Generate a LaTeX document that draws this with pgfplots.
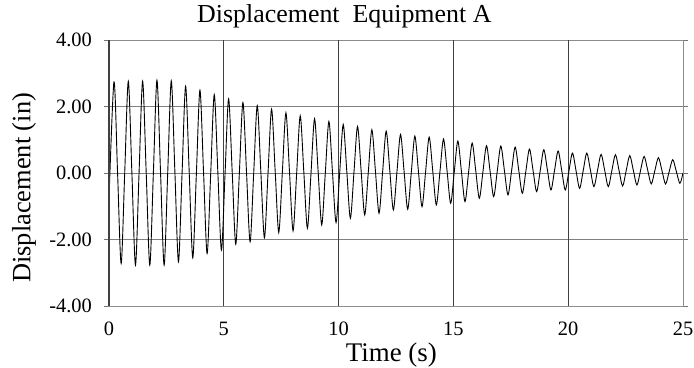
\documentclass[border=0pt]{standalone}
\usepackage{pgfplots}
\pgfplotsset{compat=1.18}
\usepackage{fontspec}
\setmainfont{Liberation Serif}
\pgfplotstableread{
t y
0.000 -0.80
0.217 2.74
0.373 0.01
0.529 -2.72
0.685 0.02
0.841 2.76
0.997 0.00
1.153 -2.77
1.309 0.00
1.465 2.76
1.621 0.00
1.777 -2.77
1.933 0.01
2.089 2.79
2.245 0.01
2.401 -2.77
2.557 0.00
2.713 2.77
2.869 0.05
3.025 -2.67
3.181 -0.03
3.337 2.61
3.493 0.03
3.649 -2.55
3.805 -0.03
3.961 2.49
4.117 0.04
4.273 -2.42
4.429 -0.03
4.585 2.36
4.741 0.02
4.897 -2.32
5.053 -0.05
5.209 2.23
5.365 0.05
5.521 -2.14
5.677 -0.01
5.833 2.12
5.989 0.03
6.145 -2.07
6.301 -0.02
6.457 2.03
6.613 0.04
6.769 -1.95
6.925 -0.02
7.081 1.92
7.237 0.07
7.393 -1.79
7.549 0.01
7.705 1.81
7.861 0.04
8.017 -1.74
8.173 -0.01
8.329 1.72
8.485 0.03
8.641 -1.66
8.797 -0.02
8.953 1.63
9.109 0.04
9.265 -1.56
9.421 0.00
9.577 1.55
9.733 0.03
9.889 -1.49
10.045 -0.02
10.201 1.46
10.357 0.05
10.513 -1.36
10.669 0.02
10.825 1.40
10.981 0.07
11.137 -1.26
11.293 0.02
11.449 1.30
11.605 0.05
11.761 -1.21
11.917 0.03
12.073 1.26
12.229 0.08
12.385 -1.11
12.541 0.03
12.697 1.16
12.853 0.04
13.009 -1.09
13.165 0.01
13.321 1.11
13.477 0.05
13.633 -1.01
13.789 0.04
13.945 1.08
14.101 0.06
14.257 -0.96
14.413 0.03
14.569 1.02
14.725 0.06
14.881 -0.91
15.037 0.03
15.193 0.96
15.349 0.05
15.505 -0.86
15.661 0.02
15.817 0.90
15.973 0.07
16.129 -0.76
16.285 0.03
16.441 0.82
16.597 0.06
16.753 -0.71
16.909 0.05
17.065 0.81
17.221 0.08
17.377 -0.66
17.533 0.06
17.689 0.78
17.845 0.09
18.001 -0.61
18.157 0.06
18.313 0.72
18.469 0.08
18.625 -0.56
18.781 0.07
18.937 0.70
19.093 0.10
19.249 -0.51
19.405 0.08
19.561 0.66
19.717 0.08
19.873 -0.51
20.029 0.05
20.185 0.60
20.341 0.07
20.497 -0.46
20.653 0.07
20.809 0.60
20.965 0.10
21.121 -0.41
21.277 0.08
21.433 0.56
21.589 0.08
21.745 -0.41
21.901 0.07
22.057 0.55
22.213 0.08
22.369 -0.39
22.525 0.07
22.681 0.52
22.837 0.08
22.993 -0.36
23.149 0.07
23.305 0.50
23.461 0.09
23.617 -0.33
23.773 0.07
23.929 0.46
24.085 0.07
24.241 -0.33
24.397 0.04
24.553 0.40
24.709 0.05
24.865 -0.31
25.000 0.00
}\disp
\begin{document}
\begin{tikzpicture}
\begin{axis}[
  scale only axis, width=574bp, height=266bp,
  xmin=0, xmax=25, ymin=-4, ymax=4,
  xtick={0,5,10,15,20,25}, xticklabels={0,5,10,15,20,25},
  ytick={-4,-2,0,2,4}, yticklabels={-4.00,-2.00,0.00,2.00,4.00},
  ymajorgrids=true,
  extra x ticks={5,10,15,20},
  extra x tick labels={},
  extra x tick style={xmajorgrids=true},
  x grid style={draw=black!75, line width=1.2bp},
  y grid style={draw=black!50, line width=1bp},
  axis line style={draw=black!45, line width=1bp},
  tick align=outside,
  xtick style={draw=none},
  ytick style={draw=black!55, line width=1bp},
  major tick length=5bp,
  tick label style={font=\fontsize{20.5}{20.5}\selectfont, inner sep=0pt},
  xticklabel style={anchor=north, yshift=-11bp},
  yticklabel style={anchor=east, xshift=-12bp},
  title={Displacement\ \ Equipment A},
  title style={font=\fontsize{26}{26}\selectfont, inner sep=0pt, at={(axis description cs:0.41,1)}, anchor=base, yshift=12bp},
  xlabel={Time (s)},
  xlabel style={font=\fontsize{27}{27}\selectfont, inner sep=0pt, at={(axis description cs:0.492,0)}, anchor=base, yshift=-55bp},
  ylabel={Displacement (in)},
  ylabel style={font=\fontsize{26.5}{26.5}\selectfont, inner sep=0pt, at={(axis description cs:-0.148,0.444)}, anchor=center},
]
\addplot[black, line width=0.9bp, smooth, mark=none] table[x=t, y=y] {\disp};
\end{axis}
\draw[black!75, line width=1.5bp] (current axis.south west) -- (current axis.north west);
\path (current axis.south west) ++(-109bp,-62bp) rectangle ++(694bp,368bp);
\end{tikzpicture}
\end{document}
